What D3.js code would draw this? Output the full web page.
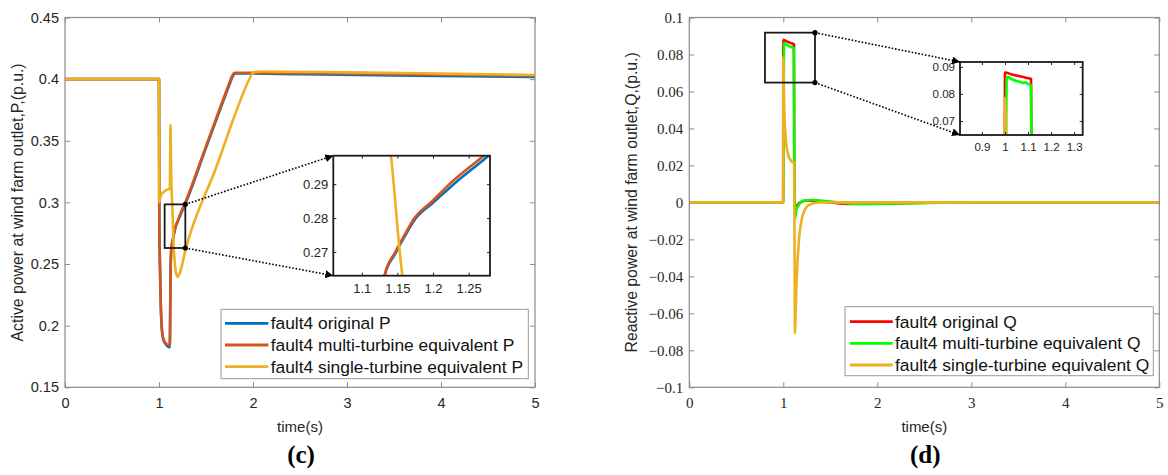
<!DOCTYPE html>
<html><head><meta charset="utf-8">
<script src="https://cdn.jsdelivr.net/npm/d3@7"></script>
<style>body{margin:0;background:#fff}svg{display:block}</style>
</head><body>
<svg id="c" width="1168" height="475"></svg>
<script>
// ---------- DATA ----------
const timeTicks = [0, 1, 2, 3, 4, 5];
const pTicks = [0.15, 0.2, 0.25, 0.3, 0.35, 0.4, 0.45];
const pTickLabels = ["0.15", "0.2", "0.25", "0.3", "0.35", "0.4", "0.45"];
const qTicks = [-0.1, -0.08, -0.06, -0.04, -0.02, 0, 0.02, 0.04, 0.06, 0.08, 0.1];
const qTickLabels = ["\u22120.1", "\u22120.08", "\u22120.06", "\u22120.04", "\u22120.02", "0", "0.02", "0.04", "0.06", "0.08", "0.1"];

const pSeriesNames = ["fault4 original P", "fault4 multi-turbine equivalent P", "fault4 single-turbine equivalent P"];
const qSeriesNames = ["fault4 original Q", "fault4 multi-turbine equivalent Q", "fault4 single-turbine equivalent Q"];

// Active power P (p.u.)
const pOrigT = [0, 1.0, 1.003, 1.01, 1.02, 1.03, 1.045, 1.07, 1.1, 1.115, 1.118, 1.121, 1.126, 1.132, 1.147, 1.16, 1.176, 1.2, 1.229, 1.278, 1.5, 1.75, 1.78, 1.81, 2.5, 3.5, 5];
const pOrigV = [0.4, 0.4, 0.293, 0.25, 0.214, 0.197, 0.189, 0.185, 0.1828, 0.1825, 0.2, 0.232, 0.254, 0.263, 0.2695, 0.2745, 0.28, 0.2845, 0.29, 0.2984, 0.3442, 0.3956, 0.4015, 0.4047, 0.404, 0.403, 0.4018];
const pMultiT = [0, 1.0, 1.003, 1.01, 1.02, 1.03, 1.045, 1.07, 1.1, 1.115, 1.118, 1.121, 1.126, 1.132, 1.147, 1.16, 1.174, 1.2, 1.223, 1.271, 1.5, 1.745, 1.775, 1.805, 2.5, 3.5, 5];
const pMultiV = [0.4, 0.4, 0.293, 0.25, 0.215, 0.198, 0.19, 0.186, 0.1842, 0.184, 0.2, 0.232, 0.254, 0.263, 0.27, 0.275, 0.28, 0.2852, 0.29, 0.2984, 0.3456, 0.3962, 0.4022, 0.4052, 0.4048, 0.404, 0.4028];
const pSingleT = [0, 1.0, 1.002, 1.01, 1.03, 1.06, 1.09, 1.115, 1.119, 1.122, 1.126, 1.132, 1.141, 1.157, 1.17, 1.185, 1.2, 1.22, 1.287, 1.6, 1.96, 1.99, 2.03, 2.1, 3, 4, 5];
const pSingleV = [0.4, 0.4, 0.3, 0.303, 0.307, 0.309, 0.3105, 0.311, 0.335, 0.363, 0.34, 0.315, 0.2984, 0.263, 0.249, 0.2415, 0.2396, 0.2425, 0.263, 0.3267, 0.3999, 0.4045, 0.406, 0.4062, 0.4055, 0.4045, 0.4033];

// Reactive power Q (p.u.)
const qOrigT = [0, 0.999, 1.0, 1.03, 1.06, 1.09, 1.113, 1.116, 1.12, 1.13, 1.15, 1.2, 1.25, 1.35, 1.5, 1.7, 2.0, 2.5, 3, 5];
const qOrigV = [0, 0, 0.0879, 0.0872, 0.0866, 0.086, 0.0855, 0.03, -0.004, -0.0035, -0.0015, 0.0005, 0.001, 0.0008, 0.0, -0.0008, -0.0007, -0.0002, 0, 0];
const qMultiT = [0, 0.999, 1.007, 1.012, 1.03, 1.05, 1.07, 1.08, 1.09, 1.1, 1.113, 1.116, 1.125, 1.14, 1.17, 1.2, 1.3, 1.45, 1.6, 1.8, 2.2, 2.7, 3.2, 5];
const qMultiV = [0, 0, 0.0857, 0.0862, 0.0854, 0.0848, 0.0843, 0.084, 0.0843, 0.0836, 0.0832, 0.03, -0.0086, -0.004, -0.001, 0.0008, 0.0013, 0.0008, 0, -0.0008, -0.0006, -0.0002, 0, 0];
const qSingleT = [0, 0.999, 1.0, 1.005, 1.012, 1.02, 1.035, 1.05, 1.07, 1.09, 1.115, 1.12, 1.124, 1.13, 1.14, 1.15, 1.16, 1.175, 1.195, 1.22, 1.25, 1.3, 1.4, 5];
const qSingleV = [0, 0, 0.0785, 0.065, 0.048, 0.039, 0.03, 0.026, 0.0235, 0.022, 0.0215, -0.03, -0.0708, -0.062, -0.045, -0.033, -0.025, -0.016, -0.0095, -0.005, -0.0023, -0.0008, 0, 0];

// inset settings (data domains)
const pZoomX = [1.06, 1.28], pZoomY = [0.263, 0.2984];
const pZoomXTicks = [1.1, 1.15, 1.2, 1.25], pZoomYTicks = [0.27, 0.28, 0.29];
const qZoomX = [0.805, 1.337], qZoomY = [0.0648, 0.0918];
const qZoomXTicks = [0.9, 1, 1.1, 1.2, 1.3], qZoomYTicks = [0.07, 0.08, 0.09];

// ---------- DRAW ----------
const svg = d3.select("#c");
const defs = svg.append("defs");
defs.append("marker").attr("id", "arr").attr("viewBox", "0 0 10 10")
  .attr("refX", 10).attr("refY", 5).attr("markerWidth", 8).attr("markerHeight", 8)
  .attr("markerUnits", "userSpaceOnUse").attr("orient", "auto")
  .append("path").attr("d", "M0,0 L10,5 L0,10 Z").attr("fill", "#000");

const SANS = "'Liberation Sans', Arial, sans-serif";
const SERIF = "'Liberation Serif', 'Times New Roman', serif";
const AX = "#8a8a8a";
let clipN = 0;

function zip(t, v) { return t.map((d, i) => [d, v[i]]); }

function drawLines(g, x, y, series, width) {
  const line = d3.line().x(d => x(d[0])).y(d => y(d[1])).curve(d3.curveMonotoneX);
  series.forEach(s => {
    g.append("path").datum(zip(s.t, s.v)).attr("d", line)
      .attr("fill", "none").attr("stroke", s.color).attr("stroke-width", width)
      .attr("stroke-linejoin", "round").attr("stroke-linecap", "round");
  });
}

function styleAxis(sel, font, size, color, tickColor) {
  sel.select(".domain").remove();
  sel.selectAll(".tick line").attr("stroke", tickColor).attr("stroke-width", 1);
  sel.selectAll(".tick text").attr("font-family", font).attr("font-size", size).attr("fill", color);
}

function panel(cfg) {
  const g = svg.append("g");
  const x = d3.scaleLinear().domain([0, 5]).range([cfg.x0, cfg.x1]);
  const y = d3.scaleLinear().domain(cfg.yDom).range([cfg.y1, cfg.y0]);
  const id = "clip" + (clipN++);
  defs.append("clipPath").attr("id", id).append("rect")
    .attr("x", cfg.x0).attr("y", cfg.y0).attr("width", cfg.x1 - cfg.x0).attr("height", cfg.y1 - cfg.y0);

  // axes
  const ax = g.append("g").attr("transform", `translate(0,${cfg.y1})`)
    .call(d3.axisBottom(x).tickValues(timeTicks).tickFormat(d3.format("d")).tickSize(-5).tickSizeOuter(0).tickPadding(10));
  styleAxis(ax, cfg.tickFont, cfg.tickSize, "#262626", AX);
  const axT = g.append("g").attr("transform", `translate(0,${cfg.y0})`)
    .call(d3.axisTop(x).tickValues(timeTicks).tickFormat("").tickSize(-5).tickSizeOuter(0));
  styleAxis(axT, cfg.tickFont, cfg.tickSize, "#262626", AX);
  const ay = g.append("g").attr("transform", `translate(${cfg.x0},0)`)
    .call(d3.axisLeft(y).tickValues(cfg.yTicks).tickFormat((d, i) => cfg.yLabels[i]).tickSize(-5).tickSizeOuter(0).tickPadding(6));
  styleAxis(ay, cfg.tickFont, cfg.tickSize, "#262626", AX);
  const ayR = g.append("g").attr("transform", `translate(${cfg.x1},0)`)
    .call(d3.axisRight(y).tickValues(cfg.yTicks).tickFormat("").tickSize(-5).tickSizeOuter(0));
  styleAxis(ayR, cfg.tickFont, cfg.tickSize, "#262626", AX);

  // lines
  const lg = g.append("g").attr("clip-path", `url(#${id})`);
  drawLines(lg, x, y, cfg.series, 2.6);

  // frame
  g.append("rect").attr("x", cfg.x0).attr("y", cfg.y0).attr("width", cfg.x1 - cfg.x0).attr("height", cfg.y1 - cfg.y0)
    .attr("fill", "none").attr("stroke", AX).attr("stroke-width", 1.2);

  // axis labels
  g.append("text").attr("transform", `translate(${cfg.ylabX},${(cfg.y0 + cfg.y1) / 2}) rotate(-90)`)
    .attr("text-anchor", "middle").attr("font-family", SANS).attr("font-size", 15.8).attr("fill", "#262626")
    .text(cfg.ylabel);
  g.append("text").attr("x", (cfg.x0 + cfg.x1) / 2).attr("y", 432).attr("text-anchor", "middle")
    .attr("font-family", SANS).attr("font-size", 15).attr("fill", "#262626").text("time(s)");
  g.append("text").attr("x", (cfg.x0 + cfg.x1) / 2 + 1).attr("y", 463).attr("text-anchor", "middle")
    .attr("font-family", SERIF).attr("font-weight", "bold").attr("font-size", 25).attr("fill", "#000").text(cfg.tag);

  // zoom rectangle
  const zx0 = x(cfg.zoomX[0]), zx1 = x(cfg.zoomX[1]), zy0 = y(cfg.zoomY[1]), zy1 = y(cfg.zoomY[0]);
  g.append("rect").attr("x", zx0).attr("y", zy0).attr("width", zx1 - zx0).attr("height", zy1 - zy0)
    .attr("fill", "none").attr("stroke", "#1a1a1a").attr("stroke-width", 1.8);

  // inset
  const ib = cfg.inset;
  const ix = d3.scaleLinear().domain(cfg.zoomX).range([ib.x0, ib.x1]);
  const iy = d3.scaleLinear().domain(cfg.zoomY).range([ib.y1, ib.y0]);
  g.append("rect").attr("x", ib.x0).attr("y", ib.y0).attr("width", ib.x1 - ib.x0).attr("height", ib.y1 - ib.y0).attr("fill", "#fff");
  const iid = "clip" + (clipN++);
  defs.append("clipPath").attr("id", iid).append("rect")
    .attr("x", ib.x0).attr("y", ib.y0).attr("width", ib.x1 - ib.x0).attr("height", ib.y1 - ib.y0);
  const ilg = g.append("g").attr("clip-path", `url(#${iid})`);
  drawLines(ilg, ix, iy, cfg.series, 2.6);
  const ixa = g.append("g").attr("transform", `translate(0,${ib.y1})`)
    .call(d3.axisBottom(ix).tickValues(cfg.zoomXTicks).tickFormat(d => String(+d.toFixed(2))).tickSize(-3).tickSizeOuter(0).tickPadding(8));
  styleAxis(ixa, SANS, cfg.insetFont, "#262626", "#222");
  const ixt = g.append("g").attr("transform", `translate(0,${ib.y0})`)
    .call(d3.axisTop(ix).tickValues(cfg.zoomXTicks).tickFormat("").tickSize(-3).tickSizeOuter(0));
  styleAxis(ixt, SANS, cfg.insetFont, "#262626", "#222");
  const iya = g.append("g").attr("transform", `translate(${ib.x0},0)`)
    .call(d3.axisLeft(iy).tickValues(cfg.zoomYTicks).tickFormat(d => String(+d.toFixed(2))).tickSize(-3).tickSizeOuter(0).tickPadding(5));
  styleAxis(iya, SANS, cfg.insetFont, "#262626", "#222");
  const iyr = g.append("g").attr("transform", `translate(${ib.x1},0)`)
    .call(d3.axisRight(iy).tickValues(cfg.zoomYTicks).tickFormat("").tickSize(-3).tickSizeOuter(0));
  styleAxis(iyr, SANS, cfg.insetFont, "#262626", "#222");
  g.append("rect").attr("x", ib.x0).attr("y", ib.y0).attr("width", ib.x1 - ib.x0).attr("height", ib.y1 - ib.y0)
    .attr("fill", "none").attr("stroke", "#1a1a1a").attr("stroke-width", 1.8);

  // connectors
  [[zy0, ib.y0], [zy1, ib.y1]].forEach(([a, b]) => {
    g.append("line").attr("x1", zx1).attr("y1", a).attr("x2", ib.x0).attr("y2", b)
      .attr("stroke", "#000").attr("stroke-width", 1.6).attr("stroke-dasharray", "1.6,1.8")
      .attr("marker-end", "url(#arr)");
    g.append("circle").attr("cx", zx1).attr("cy", a).attr("r", 2.6).attr("fill", "#000");
  });

  // legend
  const L = cfg.legend;
  g.append("rect").attr("x", L.x0).attr("y", L.y0).attr("width", L.x1 - L.x0).attr("height", L.y1 - L.y0)
    .attr("fill", "#fff").attr("stroke", "#9a9a9a").attr("stroke-width", 1);
  cfg.series.forEach((s, i) => {
    const cy = L.rows[i];
    g.append("line").attr("x1", L.lx0).attr("x2", L.lx1).attr("y1", cy).attr("y2", cy)
      .attr("stroke", s.color).attr("stroke-width", 2.8);
    g.append("text").attr("x", L.tx).attr("y", cy + 6).attr("font-family", SANS).attr("font-size", 17.4)
      .attr("fill", "#111").text(cfg.names[i]);
  });
}

panel({
  x0: 65, x1: 535, y0: 17.5, y1: 387.3, yDom: [0.15, 0.45], yTicks: pTicks, yLabels: pTickLabels,
  tickFont: SANS, tickSize: 14.5, ylabX: 23, ylabel: "Active power at wind farm outlet,P,(p.u.)", tag: "(c)",
  series: [
    { t: pOrigT, v: pOrigV, color: "#0072BD" },
    { t: pMultiT, v: pMultiV, color: "#D95319" },
    { t: pSingleT, v: pSingleV, color: "#EDB120" }
  ],
  names: pSeriesNames,
  zoomX: pZoomX, zoomY: pZoomY, zoomXTicks: pZoomXTicks, zoomYTicks: pZoomYTicks, insetFont: 13,
  inset: { x0: 333.3, x1: 490, y0: 155.7, y1: 275.7 },
  legend: { x0: 221, x1: 528.3, y0: 309.3, y1: 378.7, rows: [323.3, 345, 366.7], lx0: 225, lx1: 268.3, tx: 270.7 }
});

panel({
  x0: 689.3, x1: 1159.3, y0: 17.5, y1: 387.3, yDom: [-0.1, 0.1], yTicks: qTicks, yLabels: qTickLabels,
  tickFont: SERIF, tickSize: 15, ylabX: 637, ylabel: "Reactive power at wind farm outlet,Q,(p.u.)", tag: "(d)",
  series: [
    { t: qOrigT, v: qOrigV, color: "#FF0000" },
    { t: qMultiT, v: qMultiV, color: "#00FF00" },
    { t: qSingleT, v: qSingleV, color: "#EDB120" }
  ],
  names: qSeriesNames,
  zoomX: qZoomX, zoomY: qZoomY, zoomXTicks: qZoomXTicks, zoomYTicks: qZoomYTicks, insetFont: 11.5,
  inset: { x0: 960, x1: 1082.7, y0: 62, y1: 135 },
  legend: { x0: 845, x1: 1153.3, y0: 306.7, y1: 375.7, rows: [321.7, 343.3, 365], lx0: 850, lx1: 892.7, tx: 895 }
});
</script>
</body></html>
